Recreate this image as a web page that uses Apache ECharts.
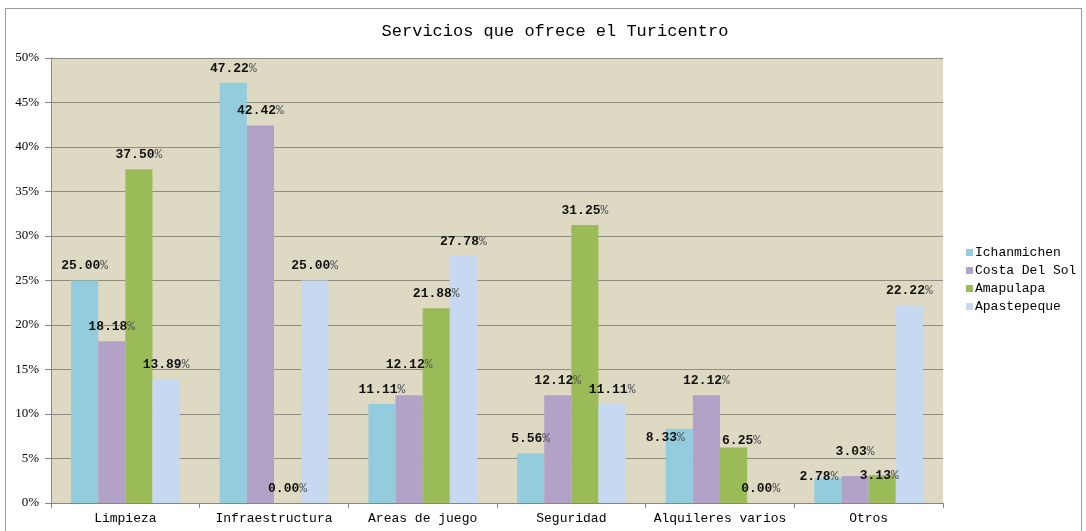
<!DOCTYPE html>
<html>
<head>
<meta charset="utf-8">
<script src="https://cdn.jsdelivr.net/npm/echarts@6/dist/echarts.min.js"></script>
<style>
  html, body { margin: 0; padding: 0; background: #fff; }
  #frame { position: absolute; left: 5px; top: 8px; width: 1077px; height: 530px; border: 1px solid #9a9a9a; box-sizing: border-box; }
  #chart { position: absolute; left: 0; top: 0; width: 1086px; height: 531px; }
</style>
</head>
<body>
<div id="frame"></div>
<div id="chart"></div>
<script>
// Categories of services and the share reported for each turicentro
const categories = ['Limpieza', 'Infraestructura', 'Areas de juego', 'Seguridad', 'Alquileres varios', 'Otros'];
const seriesNames = ['Ichanmichen', 'Costa Del Sol', 'Amapulapa', 'Apastepeque'];
const ichanmichen = [25.00, 47.22, 11.11, 5.56, 8.33, 2.78];
const costaDelSol = [18.18, 42.42, 12.12, 12.12, 12.12, 3.03];
const amapulapa   = [37.50, 0.00, 21.88, 31.25, 6.25, 3.13];
const apastepeque = [13.89, 25.00, 27.78, 11.11, 0.00, 22.22];
const yTicks = [0, 5, 10, 15, 20, 25, 30, 35, 40, 45, 50];

const colors = ['#93CDDD', '#B3A2C7', '#9BBB59', '#C6D9F1'];
const mono = '"Liberation Mono", "DejaVu Sans Mono", monospace';
const serif = '"Liberation Serif", "DejaVu Serif", serif';

// A few value labels were nudged by hand so they don't collide: [series][category] -> [dx, dy]
const labelNudges = {
  'Costa Del Sol': { 2: [0, -16], 5: [0, -10] },
  'Ichanmichen':   { 4: [-14, 23], 5: [-9, 13] },
  'Amapulapa':     { 4: [8, 8], 5: [-3, 15] }
};

const chart = echarts.init(document.getElementById('chart'));

function makeSeries(name, values, color) {
  const nudges = labelNudges[name] || {};
  return {
    name: name,
    type: 'bar',
    data: values.map((v, i) => nudges[i] ? { value: v, label: { offset: nudges[i] } } : v),
    barGap: '0%',
    barCategoryGap: '27%',
    itemStyle: { color: color },
    label: {
      show: true,
      position: 'top',
      distance: 8,
      formatter: p => '{v|' + p.value.toFixed(2) + '}{p|%}',
      rich: {
        v: { fontFamily: mono, fontSize: 13, fontWeight: 'bold', color: '#111' },
        p: { fontFamily: mono, fontSize: 13, color: '#555' }
      }
    },
    emphasis: { disabled: true }
  };
}

chart.setOption({
  animation: false,
  title: {
    text: 'Servicios que ofrece el Turicentro',
    left: 550,
    textAlign: 'center',
    top: 18,
    textStyle: { fontFamily: mono, fontSize: 17, fontWeight: 'normal', color: '#000' }
  },
  legend: {
    orient: 'vertical',
    left: 966,
    top: 246,
    icon: 'rect',
    itemWidth: 7,
    itemHeight: 7,
    itemGap: 5,
    padding: 0,
    textStyle: { fontFamily: mono, fontSize: 13, color: '#000', padding: [0, 0, 0, -3] },
    data: seriesNames
  },
  grid: {
    left: 51, top: 58, right: 143, bottom: 28,
    show: true, backgroundColor: '#DDD9C3', borderWidth: 0
  },
  xAxis: {
    type: 'category',
    data: categories,
    axisLine: { lineStyle: { color: '#868686' } },
    axisTick: { show: true, length: 5, lineStyle: { color: '#868686' } },
    axisLabel: { interval: 0, fontFamily: mono, fontSize: 13, color: '#000', margin: 9 }
  },
  yAxis: {
    type: 'value',
    min: yTicks[0],
    max: yTicks[yTicks.length - 1],
    interval: 5,
    axisLine: { show: true, lineStyle: { color: '#868686' } },
    axisTick: { show: true, length: 6, lineStyle: { color: '#868686' } },
    axisLabel: { fontFamily: serif, fontSize: 13, color: '#000', margin: 12, formatter: '{value}%' },
    splitLine: { lineStyle: { color: '#8F8C80', width: 1 } }
  },
  series: [
    makeSeries(seriesNames[0], ichanmichen, colors[0]),
    makeSeries(seriesNames[1], costaDelSol, colors[1]),
    makeSeries(seriesNames[2], amapulapa, colors[2]),
    makeSeries(seriesNames[3], apastepeque, colors[3])
  ]
});
</script>
</body>
</html>
